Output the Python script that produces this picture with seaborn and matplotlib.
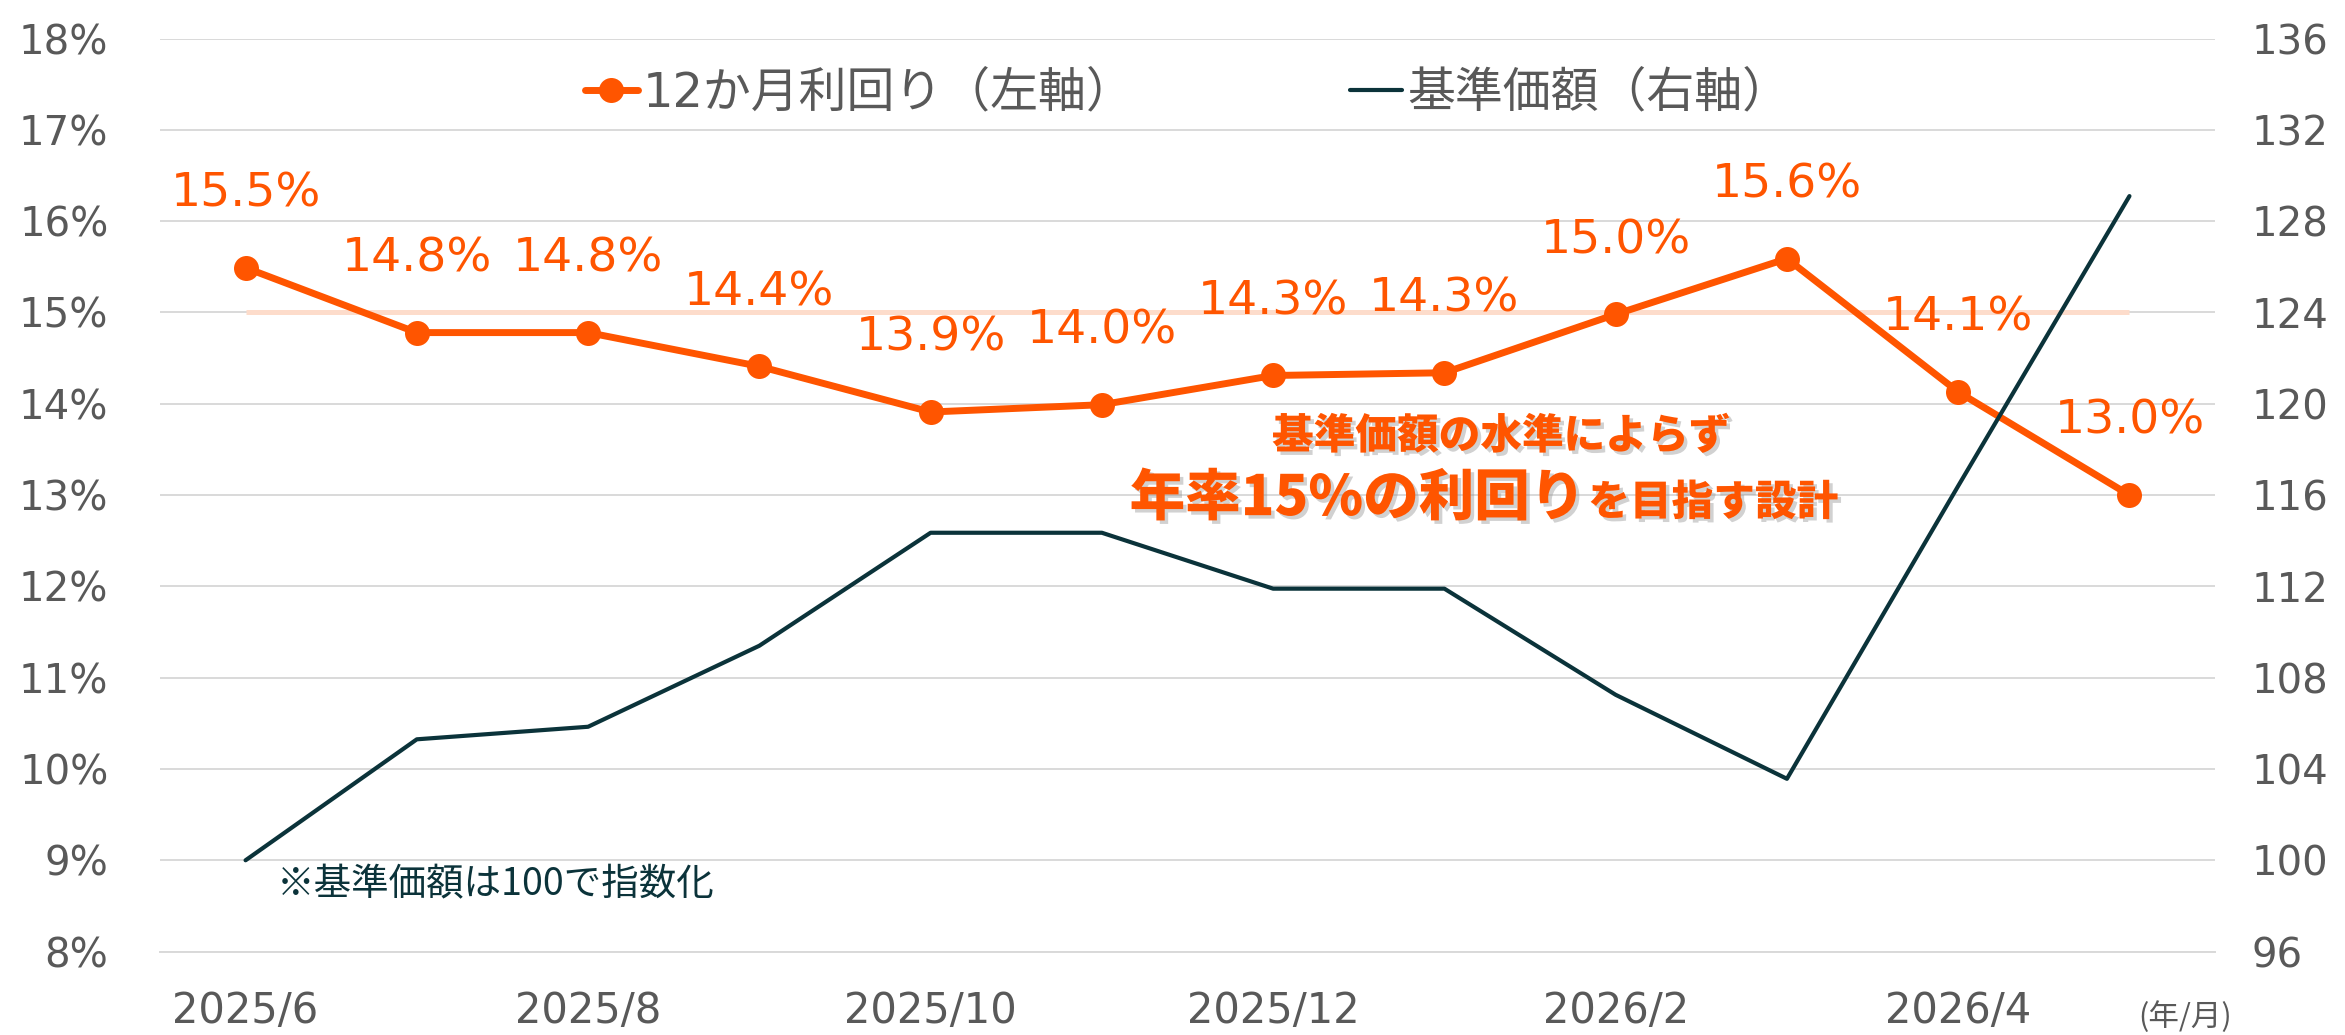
import numpy as np
import pandas as pd
import matplotlib
matplotlib.use("Agg")
import matplotlib.pyplot as plt
import matplotlib.patheffects as pe
import seaborn as sns

# data
months = ['2025/6', '2025/7', '2025/8', '2025/9', '2025/10', '2025/11',
          '2025/12', '2026/1', '2026/2', '2026/3', '2026/4', '2026/5']
yield_pct = [15.49, 14.78, 14.78, 14.41, 13.91, 13.99, 14.31, 14.34, 14.98, 15.59, 14.13, 13.00]
nav_index = [100.0, 105.3, 105.85, 109.4, 114.35, 114.35, 111.9, 111.9, 107.25, 103.57, 116.4, 129.1]
target_yield = 15.0
shown_months = ['2025/6', '2025/8', '2025/10', '2025/12', '2026/2', '2026/4']

ORANGE = '#FF5500'
TEAL = '#0B333A'
GREY = '#595959'
GRID = '#D9D9D9'

df = pd.DataFrame({'month': months, 'yield': yield_pct, 'nav': nav_index})
df['pos'] = np.arange(len(df))

sns.set_theme(style='white')
plt.rcParams['font.family'] = ['DejaVu Sans', 'Noto Sans CJK JP']

fig = plt.figure(figsize=(23.45, 10.35), dpi=100)
ax = fig.add_axes([0.0682, 0.0806, 0.8764, 0.8821])
ax2 = ax.twinx()

# target line + yield line (left axis)
ax.plot([df['pos'].iloc[0], df['pos'].iloc[-1]], [target_yield, target_yield],
        color='#FDDCCB', lw=3.6, zorder=1, solid_capstyle='butt')
sns.lineplot(data=df, x='pos', y='yield', ax=ax, color=ORANGE, lw=5,
             marker='o', markersize=18, markeredgewidth=0, zorder=3,
             label='12か月利回り（左軸）', legend=False)

# NAV line (right axis)
sns.lineplot(data=df, x='pos', y='nav', ax=ax2, color=TEAL, lw=3,
             label='基準価額（右軸）', legend=False)

ax.set_xlim(-0.5, len(months) - 0.5)
ax.set_ylim(8, 18)
ax2.set_ylim(96, 136)
ax.set_yticks(np.arange(8, 19, 1))
ax.set_yticklabels([f'{v}%' for v in range(8, 19)])
ax2.set_yticks(np.arange(96, 137, 4))

ax.set_xticks([months.index(m) for m in shown_months])
ax.set_xticklabels(shown_months)
ax.set_xticks(np.arange(-0.5, len(months), 1), minor=True)
ax.set_xlabel('')
ax.set_ylabel('')
ax2.set_ylabel('')

ax.grid(axis='y', color=GRID, lw=1.4)
ax.grid(axis='x', visible=False)
ax2.grid(False)
for a in (ax, ax2):
    for s in a.spines.values():
        s.set_visible(False)
ax.spines['bottom'].set_visible(True)
ax.spines['bottom'].set_color(GRID)
ax.spines['bottom'].set_linewidth(1.4)

ax.tick_params(axis='x', which='major', length=0, pad=28, labelsize=30, labelcolor=GREY)
ax.tick_params(axis='x', which='minor', length=13, width=1.4, color=GRID)
ax.tick_params(axis='y', length=0, pad=37, labelsize=29, labelcolor=GREY)
ax2.tick_params(axis='y', length=0, pad=26, labelsize=29, labelcolor=GREY)

# data labels
for x, v in zip(df['pos'], df['yield']):
    ax2.annotate(f'{v:.1f}%', xy=(x, v), xycoords=ax.transData,
                 xytext=(0, 53), textcoords='offset points',
                 ha='center', va='center', fontsize=34, color=ORANGE, zorder=6)

# message
shadow = [pe.SimplePatchShadow(offset=(2.5, -2.5), shadow_rgbFace='#999999', alpha=0.45), pe.Normal()]
cjk = ['Noto Sans CJK JP']
ax2.text(7.33, 13.64, '基準価額の水準によらず', transform=ax.transData,
         ha='center', va='center', fontsize=30, fontweight='black', color=ORANGE,
         family=cjk, path_effects=shadow, zorder=6)
ax2.text(7.82, 12.78, '年率15%の利回り', transform=ax.transData,
         ha='right', va='baseline', fontsize=40, fontweight='black', color=ORANGE,
         family=cjk, path_effects=shadow, zorder=6)
ax2.text(7.84, 12.78, 'を目指す設計', transform=ax.transData,
         ha='left', va='baseline', fontsize=30, fontweight='black', color=ORANGE,
         family=cjk, path_effects=shadow, zorder=6)

ax.text(0.18, 8.73, '※基準価額は100で指数化', ha='left', va='center',
        fontsize=27, color=TEAL, family=['Noto Sans CJK JP', 'DejaVu Sans'])
fig.text(0.912, 0.0174, '(年/月)', ha='left', va='center', fontsize=22, color=GREY,
         family=['Noto Sans CJK JP', 'DejaVu Sans'])

# legend
h1, l1 = ax.get_legend_handles_labels()
h2, l2 = ax2.get_legend_handles_labels()
ax.legend(h1 + h2, l1 + l2, loc='center', bbox_to_anchor=(0.5, 0.94), ncol=2,
          frameon=False, labelcolor=GREY, handlelength=1.1,
          handletextpad=0.1, columnspacing=4.5,
          prop={'family': ['DejaVu Sans', 'Noto Sans CJK JP'], 'size': 34.5})

fig.savefig('out.png', dpi=100)
